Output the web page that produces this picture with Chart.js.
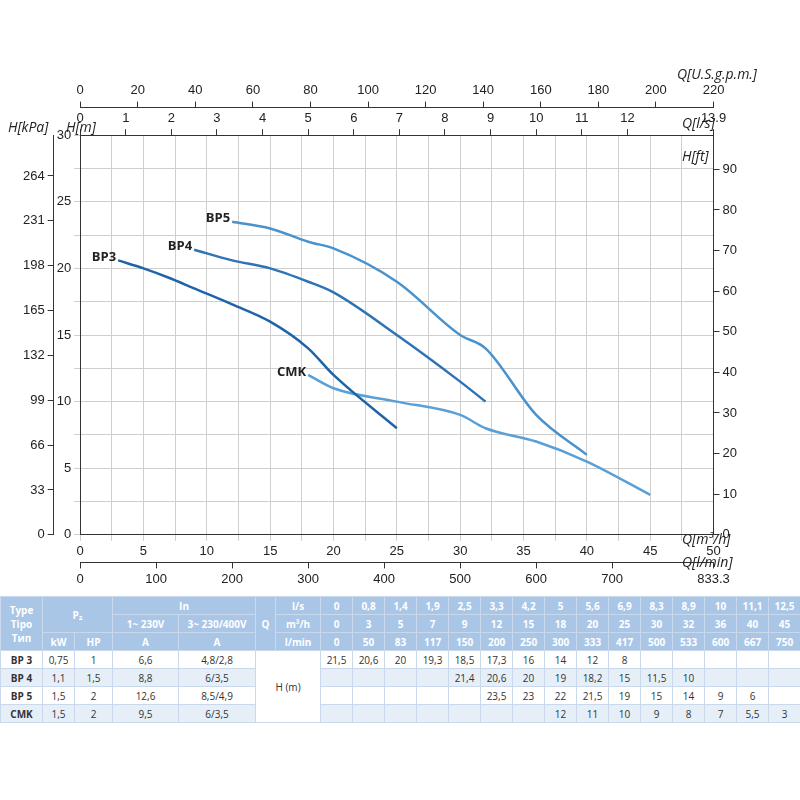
<!DOCTYPE html>
<html><head><meta charset="utf-8">
<script src="https://cdn.jsdelivr.net/npm/chart.js@4"></script>
<style>
body{margin:0;background:#fff;font-family:"Open Sans",Roboto,sans-serif}
#wrap{width:800px;height:590px;position:relative}
table{border-collapse:collapse;width:800px;margin-top:6px;font-size:10px;color:#333;table-layout:fixed}
td{border:1px solid #c9d8ea;text-align:center;height:17px;padding:0;white-space:nowrap}
.h td{background:#a9c6e6;color:#fff;font-weight:bold}
tr.alt td{background:#e6eff8}
td.nm{font-weight:bold;color:#333}
</style></head><body>
<div id="wrap"><canvas id="c" width="800" height="590"></canvas></div>
<table id="t"></table>
<script>
// curva de cada bomba: Q [m3/h] y H [m]
const qBP3 = [3, 5, 7, 9, 12, 15, 18, 20, 25];
const hBP3 = [20.6, 20, 19.3, 18.5, 17.3, 16, 14, 12, 8];
const qBP4 = [9, 12, 15, 18, 20, 25, 30, 32];
const hBP4 = [21.4, 20.6, 20, 19, 18.2, 15, 11.5, 10];
const qBP5 = [12, 15, 18, 20, 25, 30, 32, 36, 40];
const hBP5 = [23.5, 23, 22, 21.5, 19, 15, 14, 9, 6];
const qCMK = [18, 20, 25, 30, 32, 36, 40, 45];
const hCMK = [12, 11, 10, 9, 8, 7, 5.5, 3];

// tabla
const colLs = ['0','0,8','1,4','1,9','2,5','3,3','4,2','5','5,6','6,9','8,3','8,9','10','11,1','12,5'];
const colM3h = ['0','3','5','7','9','12','15','18','20','25','30','32','36','40','45'];
const colLmin = ['0','50','83','117','150','200','250','300','333','417','500','533','600','667','750'];
const modelos = ['BP 3', 'BP 4', 'BP 5', 'CMK'];
const kw = ['0,75','1,1','1,5','1,5'];
const hp = ['1','1,5','2','2'];
const amp1 = ['6,6','8,8','12,6','9,5'];
const amp3 = ['4,8/2,8','6/3,5','8,5/4,9','6/3,5'];
const alturas = [
  ['21,5','20,6','20','19,3','18,5','17,3','16','14','12','8','','','','',''],
  ['','','','','21,4','20,6','20','19','18,2','15','11,5','10','','',''],
  ['','','','','','23,5','23','22','21,5','19','15','14','9','6',''],
  ['','','','','','','','12','11','10','9','8','7','5,5','3']
];

const pts = (q, h) => q.map((x, i) => ({x, y: h[i]}));
const series = [
  {label:'BP3', data: pts(qBP3, hBP3), color:'#1f64a8'},
  {label:'BP4', data: pts(qBP4, hBP4), color:'#2e74b5'},
  {label:'BP5', data: pts(qBP5, hBP5), color:'#4a92cc'},
  {label:'CMK', data: pts(qCMK, hCMK), color:'#5aa0d6'}
];

const tituloPlugin = {
  id: 'titulos',
  afterDraw(ch) {
    const c = ch.ctx;
    c.save();
    c.font = 'italic 14px "Open Sans"'; c.fillStyle = '#222';
    c.textAlign = 'left'; c.textBaseline = 'middle';
    c.fillText('Q[U.S.g.p.m.]', 677, 75);
    c.fillText('Q[l/s]', 682, 124);
    c.fillText('H[ft]', 682, 157);
    c.fillText('Q[m³/h]', 682, 540);
    c.fillText('Q[l/min]', 682, 563);
    c.fillText('H[kPa]', 8, 128);
    c.fillText('H[m]', 66, 128);
    c.font = 'bold 13px "Open Sans"'; c.textAlign = 'right';
    ch.data.datasets.forEach((d, i) => {
      const m = ch.getDatasetMeta(i).data[0];
      c.fillText(d.label, m.x - 2, m.y - 3);
    });
    c.restore();
  }
};

const grid = '#cfcfcf';
function eje(pos, min, max, step, extra) {
  return Object.assign({
    type: 'linear', position: pos, min, max,
    grid: {drawOnChartArea: false, tickLength: 6, color: '#333'},
    border: {color: '#333'},
    ticks: {stepSize: step, color: '#222', font: {size: 13}}
  }, extra || {});
}

new Chart(document.getElementById('c'), {
  type: 'line',
  data: {datasets: series.map(s => ({
    label: s.label, data: s.data, borderColor: s.color, borderWidth: 2.5,
    pointRadius: 0, tension: 0.4, cubicInterpolationMode: 'monotone', fill: false
  }))},
  options: {
    responsive: false, animation: false,
    layout: {padding: {left: 20, right: 60, top: 80, bottom: 0}},
    plugins: {legend: {display: false}, tooltip: {enabled: false}},
    scales: {
      x: {type: 'linear', position: 'bottom', min: 0, max: 50,
        grid: {color: grid, tickLength: 6}, border: {color: '#333'},
        ticks: {stepSize: 2.5, color: '#222', font: {size: 13},
          callback: v => v % 5 === 0 ? v : ''}},
      xl: eje('bottom', 0, 50 * 1000 / 60, 100),
      xs: eje('top', 0, 50 / 3.6, 1),
      xg: eje('top', 0, 220, 20),
      y: {type: 'linear', position: 'left', min: 0, max: 30,
        grid: {color: grid, tickLength: 6}, border: {color: '#333'},
        ticks: {stepSize: 2.5, color: '#222', font: {size: 13},
          callback: v => v % 5 === 0 ? v : ''}},
      yk: eje('left', 0, 294, 33, {afterBuildTicks: s => { s.ticks = s.ticks.filter(t => t.value % 33 === 0); }}),
      yf: eje('right', 0, 98.4, 10, {afterBuildTicks: s => { s.ticks = s.ticks.filter(t => t.value % 10 === 0); }})
    }
  },
  plugins: [tituloPlugin]
});

// construir tabla
const anchos = [42, 32, 38, 66, 77, 20, 45].concat(colLs.map(() => 32));
let html = '<colgroup>' + anchos.map(w => '<col style="width:' + w + 'px">').join('') + '</colgroup>';
html += '<tr class="h"><td rowspan="3">Type<br>Tipo<br>Тип</td><td colspan="2" rowspan="2">P₂</td><td colspan="2">In</td><td rowspan="3">Q</td><td>l/s</td>'
  + colLs.map(v => '<td>' + v + '</td>').join('') + '</tr>';
html += '<tr class="h"><td>1~ 230V</td><td>3~ 230/400V</td><td>m³/h</td>' + colM3h.map(v => '<td>' + v + '</td>').join('') + '</tr>';
html += '<tr class="h"><td>kW</td><td>HP</td><td>A</td><td>A</td><td>l/min</td>' + colLmin.map(v => '<td>' + v + '</td>').join('') + '</tr>';
modelos.forEach((m, i) => {
  html += '<tr' + (i % 2 ? ' class="alt"' : '') + '><td class="nm">' + m + '</td><td>' + kw[i] + '</td><td>' + hp[i] + '</td><td>' + amp1[i] + '</td><td>' + amp3[i] + '</td>'
    + (i === 0 ? '<td colspan="2" rowspan="4" style="background:#fff">H (m)</td>' : '')
    + alturas[i].map(v => '<td>' + v + '</td>').join('') + '</tr>';
});
document.getElementById('t').innerHTML = html;
</script>
</body></html>
